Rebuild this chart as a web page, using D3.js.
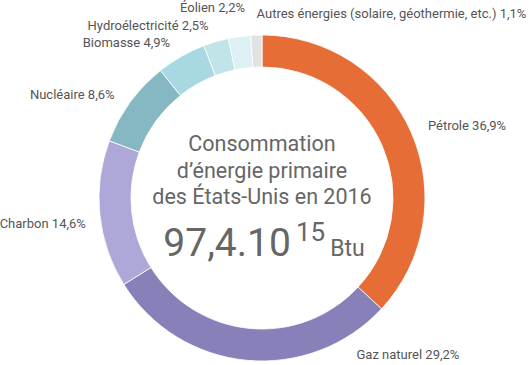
<!DOCTYPE html>
<html><head><meta charset="utf-8">
<script src="https://cdn.jsdelivr.net/npm/d3@7"></script>
<style>
html,body{margin:0;padding:0;background:#fff;}
svg{display:block;font-family:Roboto,"Noto Sans",sans-serif;}
</style></head>
<body>
<svg id="chart" width="530" height="365"></svg>
<script>
const categories = ["Pétrole","Gaz naturel","Charbon","Nucléaire","Biomasse","Hydroélectricité","Éolien","Autres énergies (solaire, géothermie, etc.)"];
const values = [36.9, 29.2, 14.6, 8.6, 4.9, 2.5, 2.2, 1.1];
const valueLabels = ["36,9%","29,2%","14,6%","8,6%","4,9%","2,5%","2,2%","1,1%"];
const colors = ["#E66D36","#8880B8","#ADA8D8","#86B8C3","#A8D8E2","#C1E4EA","#DDF1F5","#E2E2E2"];
// label placement tweaks (degrees, px) and anchors
const labelAngleShift = [0, -36.5, -2.5, -1, -0.8, -0.8, 2.8, 0.3];
const labelRadiusShift = [0, 2, -3, -1, 0, 0, 10, 4];
const labelAnchors = ["start","start","end","end","end","end","end","start"];
const centerLines = ["Consommation","d’énergie primaire","des États-Unis en 2016"];

const svg = d3.select("#chart");
const cx = 262, cy = 198, rOuter = 163, rInner = 131, rLabel = 181;
const g = svg.append("g").attr("transform", `translate(${cx},${cy})`);

const pie = d3.pie().sort(null).value(d => d)(values);
const arc = d3.arc().innerRadius(rInner).outerRadius(rOuter);
g.selectAll("path.slice").data(pie).join("path")
  .attr("class","slice")
  .attr("d", arc)
  .attr("fill", (d,i) => colors[i])
  .attr("stroke", "#fff")
  .attr("stroke-width", 0.8);

g.selectAll("text.lbl").data(pie).join("text")
  .attr("class","lbl")
  .attr("x", (d,i) => { const a = (d.startAngle + d.endAngle)/2 + labelAngleShift[i]*Math.PI/180; return (rLabel+labelRadiusShift[i])*Math.sin(a); })
  .attr("y", (d,i) => { const a = (d.startAngle + d.endAngle)/2 + labelAngleShift[i]*Math.PI/180; return -(rLabel+labelRadiusShift[i])*Math.cos(a); })
  .attr("dy","0.35em")
  .attr("text-anchor", (d,i) => labelAnchors[i])
  .attr("font-size", 13)
  .attr("fill", "#555")
  .text((d,i) => categories[i] + " " + valueLabels[i]);

const center = g.append("g");
center.selectAll("text.cl").data(centerLines).join("text")
  .attr("class","cl")
  .attr("x", 0)
  .attr("y", (d,i) => -47 + i*26.5)
  .attr("text-anchor","middle")
  .attr("font-size", 21.5)
  .attr("fill", "#666")
  .text(d => d);

const big = center.append("text")
  .attr("x", 2).attr("y", 58)
  .attr("text-anchor","middle")
  .attr("fill","#666");
big.append("tspan").attr("font-size", 39).text("97,4.10");
big.append("tspan").attr("font-size", 26).attr("dy", -15).attr("dx", 5).text("15");
big.append("tspan").attr("font-size", 23).attr("dy", 15).attr("dx", 5).text("Btu");
</script>
</body></html>
